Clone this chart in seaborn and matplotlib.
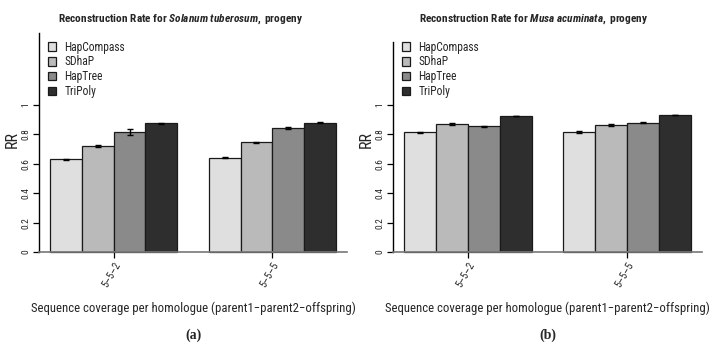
import matplotlib
matplotlib.use("Agg")
import matplotlib.pyplot as plt
from matplotlib import font_manager
from matplotlib.patches import Patch
import pandas as pd
import seaborn as sns

# values
methods = ["HapCompass", "SDhaP", "HapTree", "TriPoly"]
coverages = ["5\u20135\u20132", "5\u20135\u20135"]
colors = ["#dfdfdf", "#bababa", "#8a8a8a", "#2e2e2e"]

# rows = coverage, columns = method
solanum_rr = [[0.630, 0.721, 0.818, 0.875],
              [0.642, 0.746, 0.846, 0.880]]
solanum_err = [[0.004, 0.004, 0.022, 0.004],
               [0.004, 0.005, 0.006, 0.004]]
musa_rr = [[0.814, 0.871, 0.856, 0.925],
           [0.816, 0.864, 0.880, 0.932]]
musa_err = [[0.004, 0.006, 0.004, 0.003],
            [0.006, 0.005, 0.005, 0.003]]

sns.set_theme(style="white")


def weight_of(f):
    w = f.weight
    return w if isinstance(w, int) else font_manager.weight_dict.get(w, 400)


# a narrow grotesque with a real bold face (R's Helvetica looks condensed here)
faces = {}
for f in font_manager.fontManager.ttflist:
    faces.setdefault(f.name, set()).add((weight_of(f), f.style))
fam = "Liberation Sans"
for cand in ["Roboto Condensed", "Archivo Narrow", "PT Sans Narrow", "Asap Condensed",
             "Encode Sans Condensed", "IBM Plex Sans Condensed"]:
    fs = faces.get(cand, set())
    if any(w >= 700 for w, s in fs if s == "normal") and any(w < 600 for w, s in fs):
        fam = cand
        break
plt.rcParams["font.family"] = [fam, "DejaVu Sans"]
plt.rcParams["mathtext.fontset"] = "custom"
plt.rcParams["mathtext.it"] = fam + ":italic:bold"
plt.rcParams["mathtext.rm"] = fam + ":bold"


def long_table(rr, err):
    rows = []
    for i, cov in enumerate(coverages):
        for j, m in enumerate(methods):
            rows.append({"coverage": cov, "method": m, "rr": rr[i][j], "err": err[i][j]})
    return pd.DataFrame(rows)


def panel(ax, rr, err, species, spine_top, title_x, tag):
    df = long_table(rr, err)
    sns.barplot(data=df, x="coverage", y="rr", hue="method", order=coverages,
                hue_order=methods, palette=colors, errorbar=None, width=0.8,
                edgecolor="#1a1a1a", linewidth=0.9, legend=False, ax=ax)
    # error bars on the bar centres seaborn produced
    for cont, m in zip(ax.containers, methods):
        sub = df[df["method"] == m].set_index("coverage").loc[coverages]
        xs = [b.get_x() + b.get_width() / 2 for b in cont]
        hs = [b.get_height() for b in cont]
        ax.errorbar(xs, hs, yerr=sub["err"].values, fmt="none", ecolor="black",
                    elinewidth=1.0, capsize=2, capthick=1.0, zorder=5)

    # spines first: moving a spine resets the tick objects
    for s in ["top", "right"]:
        ax.spines[s].set_visible(False)
    ax.spines["bottom"].set_position(("data", 0))
    ax.spines["bottom"].set_color("#777777")
    ax.spines["bottom"].set_linewidth(1.2)
    ax.spines["left"].set_bounds(0, spine_top)
    ax.spines["left"].set_color("black")
    ax.spines["left"].set_linewidth(1.0)

    ax.set_xlim(-0.472, 1.472)
    ax.set_ylim(-0.06, 1.5)
    ax.tick_params(axis="both", length=4, width=0.9, color="black", pad=2,
                   left=True, bottom=True)
    ax.set_yticks([0, 0.2, 0.4, 0.6, 0.8, 1.0])
    ax.set_yticklabels(["0", "0.2", "0.4", "0.6", "0.8", "1"], rotation=90,
                       va="center", fontsize=6.8)
    ax.set_xticks([0, 1])
    ax.set_xticklabels(coverages, rotation=60, ha="right", va="top",
                       rotation_mode="anchor", fontsize=7.5)

    ax.set_ylabel("RR", fontsize=11.5)
    ax.yaxis.set_label_coords(-0.062, 0.527)
    ax.set_xlabel("Sequence coverage per homologue (parent1\u2212parent2\u2212offspring)",
                  fontsize=9.2)
    ax.xaxis.set_label_coords(0.5, -0.18)

    ax.text(title_x, 1.055, r"Reconstruction Rate for $\it{" + species + r"}$ progeny",
            transform=ax.transAxes, ha="center", va="center", fontsize=8.2,
            fontweight="bold")

    handles = [Patch(facecolor=c, edgecolor="#1a1a1a", linewidth=0.9) for c in colors]
    ax.legend(handles, methods, loc="upper left", bbox_to_anchor=(0.01, 0.985),
              frameon=False, fontsize=8.3, handlelength=0.75, handleheight=0.75,
              handletextpad=0.7, labelspacing=0.15, borderaxespad=0.1)

    ax.text(0.5, -0.325, tag, transform=ax.transAxes, ha="center", va="center",
            fontsize=10, fontweight="bold", family="Liberation Serif")


fig = plt.figure(figsize=(7.12, 3.53), dpi=100)
ax1 = fig.add_axes([39 / 712, 1 - 260.8 / 353, 308 / 712, 229.3 / 353])
ax2 = fig.add_axes([393 / 712, 1 - 260.8 / 353, 309 / 712, 229.3 / 353])

panel(ax1, solanum_rr, solanum_err, r"Solanum\ tuberosum,", 1.49, 0.461, "(a)")
panel(ax2, musa_rr, musa_err, r"Musa\ acuminata,", 1.43, 0.456, "(b)")

fig.savefig("out.png", dpi=100)
